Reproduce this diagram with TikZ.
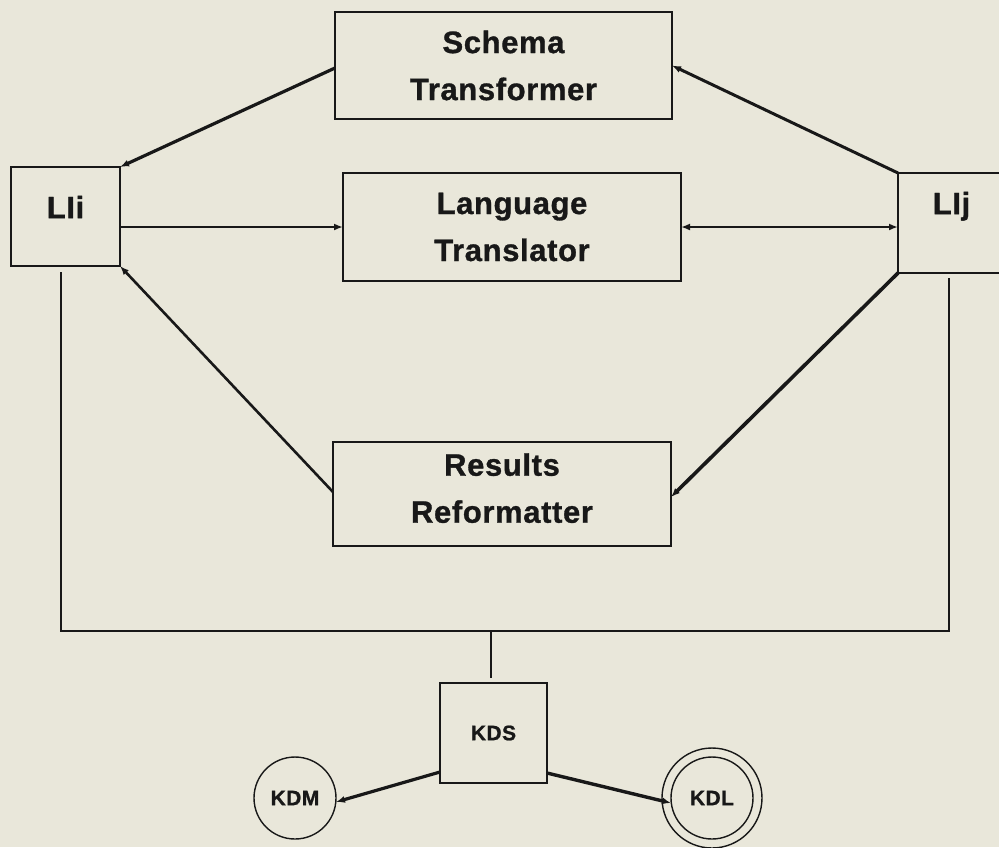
\documentclass[tikz,border=0pt]{standalone}
\usepackage{fontspec}
\setmainfont{Liberation Sans}[LetterSpace=2, BoldFeatures={FakeBold=1}]
\usetikzlibrary{arrows.meta}
\definecolor{paper}{RGB}{233,231,218}
\definecolor{ink}{RGB}{24,24,24}

\begin{document}
\begin{tikzpicture}[x=1pt,y=-1pt,
  every node/.style={inner sep=0pt, outer sep=0pt, text=ink},
  box/.style={draw=ink, line width=1.6pt, rectangle, align=center,
    font=\bfseries\fontsize{31}{47}\selectfont},
  smallbox/.style={draw=ink, line width=1.6pt, rectangle,
    font=\bfseries\fontsize{21}{25}\selectfont},
  store/.style={draw=ink, line width=1.4pt, circle, minimum size=82pt,
    font=\bfseries\fontsize{21}{25}\selectfont},
  tip/.style={Latex[length=9pt,width=7pt]},
  link/.style={draw=ink, line width=#1, -{Latex[length=9pt,width=7pt]}},
  link/.default=2.4pt,
  bus/.style={draw=ink, line width=1.5pt}
]
\useasboundingbox (0,0) rectangle (999,847);
\fill[paper] (0,0) rectangle (999,847);

% processing modules
\node[box, minimum width=337pt, minimum height=107pt] (st) at (503.5,65.5) {Schema\\Transformer};
\node[box, minimum width=338pt, minimum height=108pt] (lt) at (512,227) {Language\\Translator};
\node[box, minimum width=338pt, minimum height=104pt, text depth=12pt] (rr) at (502,494) {Results\\Reformatter};

% language interfaces
\node[box, minimum width=109pt, minimum height=99pt, text depth=19pt] (lii) at (65.5,216.5) {LIi};
\node[box, minimum width=107pt, minimum height=100pt, text depth=40pt] (lij) at (951.5,223) {LIj};

% kernel database system and its parts
\node[smallbox, minimum width=107pt, minimum height=100pt] (kds) at (493.5,733) {KDS};
\node[store] (kdm) at (295,798) {KDM};
\node[store] (kdl) at (712,798) {KDL};
\draw[ink, line width=1.4pt] (kdl.center) circle[radius=50];

% links between interfaces and modules
\draw[link=3.2pt] ([yshift=-2.5pt]st.west) -- (lii.north east);
\draw[link=3pt] (lij.north west) -- (st.west -| st.east);
\draw[link=2.4pt] (lt.west -| lii.east) -- (lt.west);
\draw[link=2.4pt, {Latex[length=9pt,width=7pt]}-{Latex[length=9pt,width=7pt]}] (lt.east) -- (lt.east -| lij.west);
\draw[link=2.6pt] ([yshift=2pt]rr.west) -- (lii.south east);
\draw[link=3.6pt] (lij.south west) -- ([yshift=-3pt]rr.east);

% common bus to the kernel system
\coordinate (bus) at (491,631);
\draw[bus] ([xshift=-4.5pt,yshift=-6pt]lii.south) |- (bus) -| ([xshift=-2.5pt,yshift=-5pt]lij.south);
\draw[bus] (bus) -- ([xshift=-2.5pt,yshift=5pt]kds.north);

% kernel links
\draw[link=3.2pt] ([yshift=-39pt]kds.west) -- ([yshift=-4pt]kdm.east);
\draw[link=3.4pt] ([yshift=-40pt]kds.east) -- ([yshift=-5pt]kdl.west);
\end{tikzpicture}
\end{document}
